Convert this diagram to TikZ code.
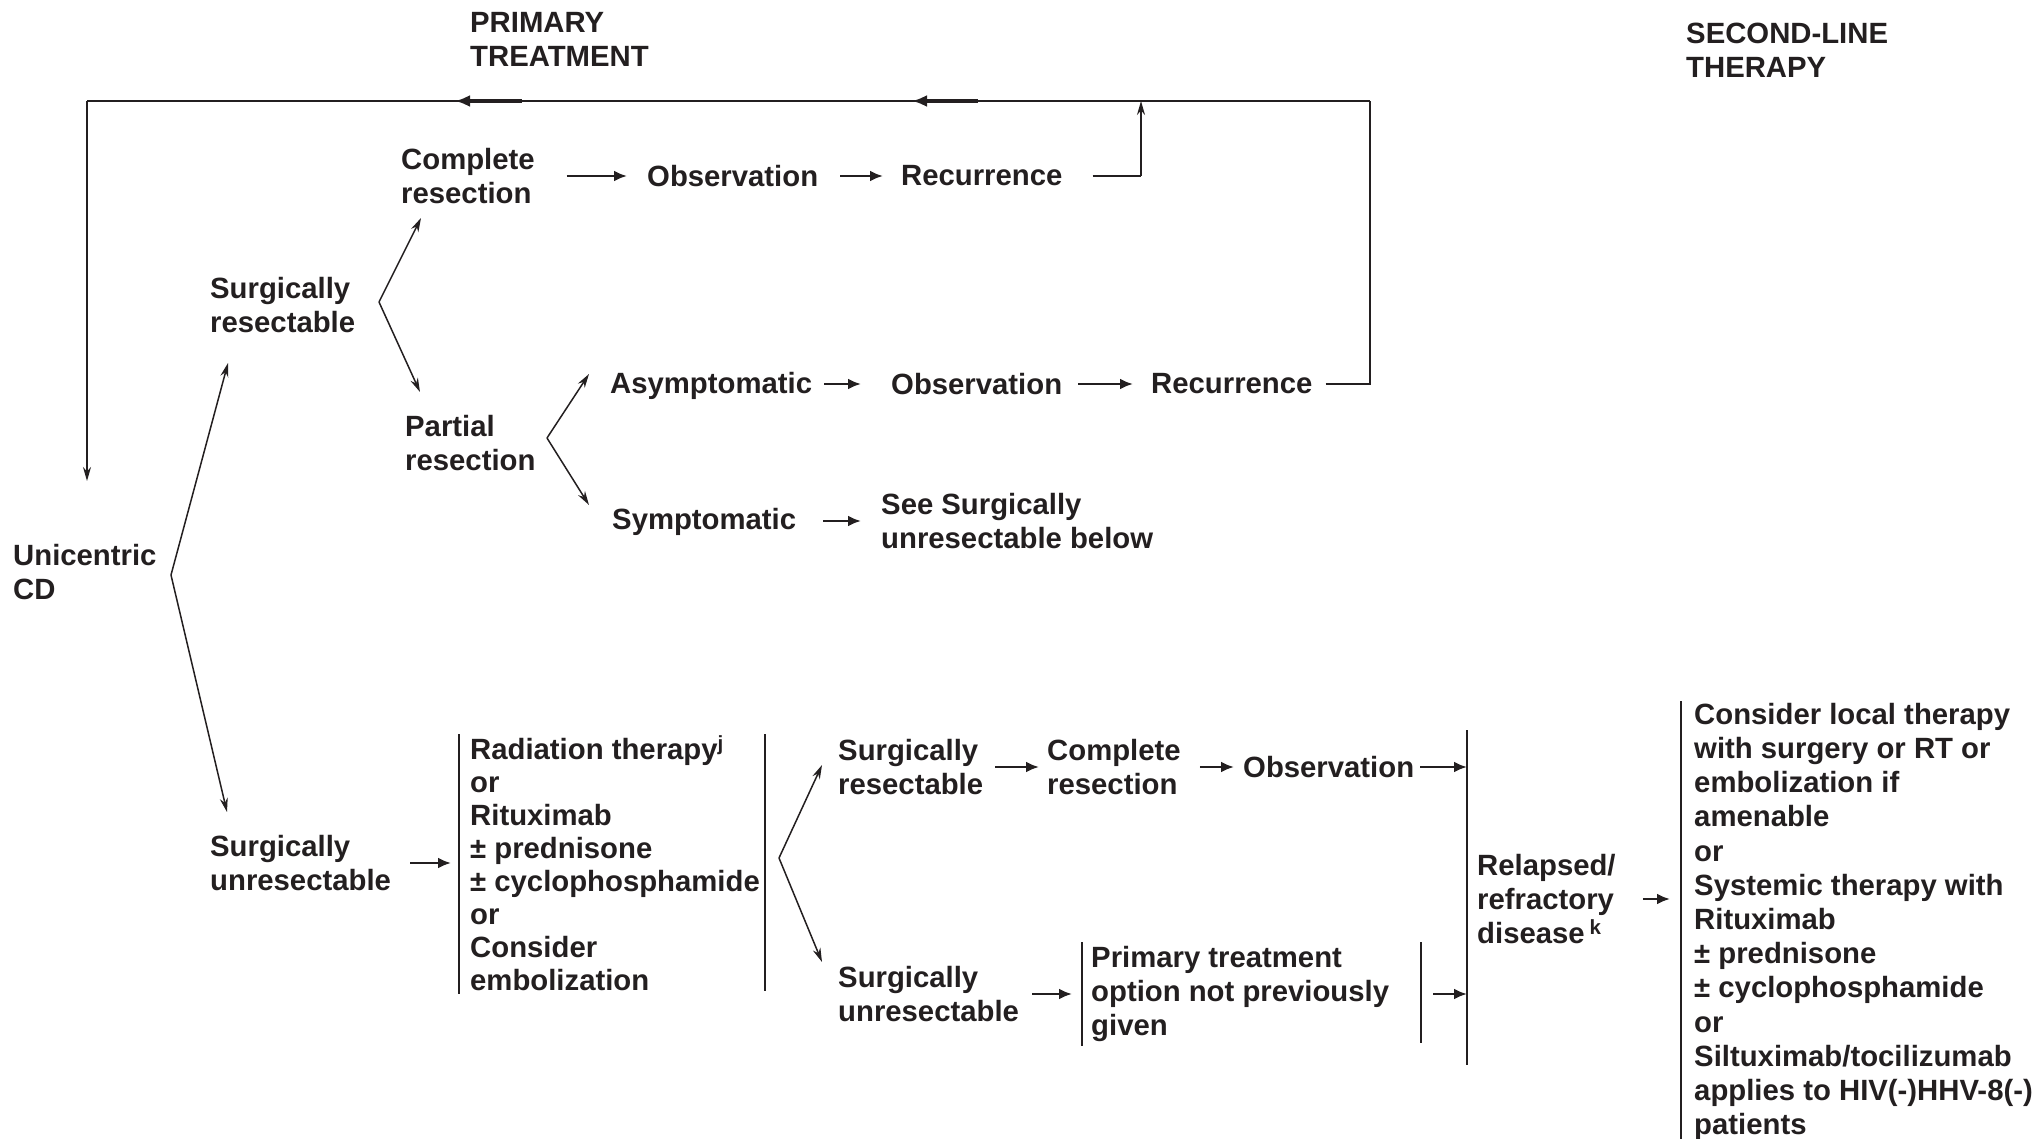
\documentclass[tikz,border=0pt]{standalone}
\usepackage{fontspec}
\setmainfont{Liberation Sans}
\usetikzlibrary{arrows.meta,calc}
\definecolor{ink}{HTML}{231F20}
\begin{document}
\begin{tikzpicture}[x=1pt,y=-1pt,
  every node/.style={text=ink},
  lbl/.style={font=\fontsize{29.3}{34}\selectfont\bfseries, anchor=west, inner sep=0pt, align=left},
  arr/.style={draw=ink, fill=ink, line width=2.4pt, -{Latex[length=13pt,width=11pt]}},
  diag/.style={draw=ink, line width=1.5pt, -{Stealth[length=14pt,width=8pt]}},
  ln/.style={draw=ink, line width=2.4pt},
  bar/.style={draw=ink, line width=1.6pt},
  midarr/.style={draw=ink, line width=3.4pt, -{Latex[length=15pt,width=12pt]}}]
\useasboundingbox (0,0) rectangle (2037,1139);

% headings
\node[lbl] (pt) at (470,39) {PRIMARY\\TREATMENT};
\node[lbl] (sl) at (1686,50) {SECOND-LINE\\THERAPY};

% upper part
\node[lbl] (cr1) at (401,176) {Complete\\resection};
\node[lbl] (ob1) at (647,176) {Observation};
\node[lbl] (re1) at (901,176) {Recurrence};
\node[lbl] (sr1) at (210,305) {Surgically\\resectable};
\node[lbl] (pr)  at (405,443) {Partial\\resection};
\node[lbl] (as)  at (610,386) {Asymptomatic};
\node[lbl] (ob2) at (891,384) {Observation};
\node[lbl] (re2) at (1151,384) {Recurrence};
\node[lbl] (sy)  at (612,522) {Symptomatic};
\node[lbl] (see) at (881,521) {See Surgically\\unresectable below};
\node[lbl] (cd)  at (13,572) {Unicentric\\CD};

% lower part
\node[lbl] (su1) at (210,863) {Surgically\\unresectable};
\node[lbl, font=\fontsize{29.3}{33}\selectfont\bfseries] (tx) at (470,863)
  {Radiation therapy\textsuperscript{j}\\or\\Rituximab\\± prednisone\\± cyclophosphamide\\or\\Consider\\embolization};
\node[lbl] (sr2) at (838,767) {Surgically\\resectable};
\node[lbl] (cr2) at (1047,767) {Complete\\resection};
\node[lbl] (ob3) at (1243,767) {Observation};
\node[lbl] (su2) at (838,994) {Surgically\\unresectable};
\node[lbl] (pn)  at (1091,994) {Primary treatment\\option not previously\\given};
\node[lbl] (rd)  at (1477,899) {Relapsed/\\refractory\\disease\,\textsuperscript{k}};
\node[lbl, font=\fontsize{29.3}{34.2}\selectfont\bfseries] (st) at (1694,922)
  {Consider local therapy\\with surgery or RT or\\embolization if\\amenable\\or\\Systemic therapy with\\Rituximab\\± prednisone\\± cyclophosphamide\\or\\Siltuximab/tocilizumab\\applies to HIV(-)HHV-8(-)\\patients};

% loop lines
\coordinate (tl) at (87,101);
\coordinate (tr) at (1370,101);
\coordinate (lt) at (87,481);
\coordinate (ru) at (1141,101);
\draw[ln] (tr) -- (tl);
\draw[bar, -{Stealth[length=14pt,width=8pt]}] (tl) -- (lt);
\draw[midarr] (522,101) -- (455,101);
\draw[midarr] (978,101) -- (912,101);
\draw[bar] ($(re2.east)+(13,0)$) -- (tr |- re2.east) -- (tr);
\draw[ln] ($(re1.east)+(30,0)$) -- (ru |- re1.east);
\draw[bar, -{Stealth[length=14pt,width=8pt]}] (ru |- re1.east) -- (ru);

% upper arrows
\draw[arr] ($(cr1.east)+(32,0)$) -- ($(ob1.west)+(-20,0)$);
\draw[arr] ($(ob1.east)+(22,0)$) -- ($(re1.west)+(-18,0)$);
\draw[arr] ($(as.east)+(12,-2)$) -- ($(ob2.west)+(-30,0)$);
\draw[arr] ($(ob2.east)+(16,0)$) -- ($(re2.west)+(-18,0)$);
\draw[arr] ($(sy.east)+(27,-1)$) -- ($(see.west)+(-20,0)$);

% branches
\coordinate (v1) at (171,575);
\draw[diag] (v1) -- (228,363);
\draw[diag] (v1) -- (227,812);
\coordinate (v2) at (379,302);
\draw[diag] (v2) -- (421,218);
\draw[diag] (v2) -- (420,392);
\coordinate (v3) at (547,438);
\draw[diag] (v3) -- (589,374);
\draw[diag] (v3) -- (589,505);
\coordinate (v4) at (779,858);
\draw[diag] (v4) -- (822,765);
\draw[diag] (v4) -- (822,962);

% bracket lines
\coordinate (b1l) at (459,734);
\coordinate (b1r) at (765,734);
\coordinate (b2l) at (1082,942);
\coordinate (b2r) at (1421,942);
\coordinate (l3) at (1467,730);
\coordinate (l4) at (1681,701);
\draw[bar] (b1l) -- (459,994);
\draw[bar] (b1r) -- (765,991);
\draw[bar] (b2l) -- (1082,1046);
\draw[bar] (b2r) -- (1421,1043);
\draw[bar] (l3) -- (1467,1065);
\draw[bar] (l4) -- (1681,1139);

% lower arrows
\draw[arr] ($(su1.east)+(19,0)$) -- ($(tx.west)+(-19,0)$);
\draw[arr] ($(sr2.east)+(12,0)$) -- ($(cr2.west)+(-8,0)$);
\draw[arr] ($(cr2.east)+(19,0)$) -- ($(ob3.west)+(-9,0)$);
\draw[arr] ($(ob3.east)+(6,0)$) -- (l3 |- ob3.east);
\draw[arr] ($(su2.east)+(13,0)$) -- ($(pn.west)+(-19,0)$);
\draw[arr] ($(b2r |- pn.west)+(12,0)$) -- (l3 |- pn.west);
\draw[arr, shorten >=11pt] ($(rd.east)+(27,0)$) -- (l4 |- rd.east);
\end{tikzpicture}
\end{document}
